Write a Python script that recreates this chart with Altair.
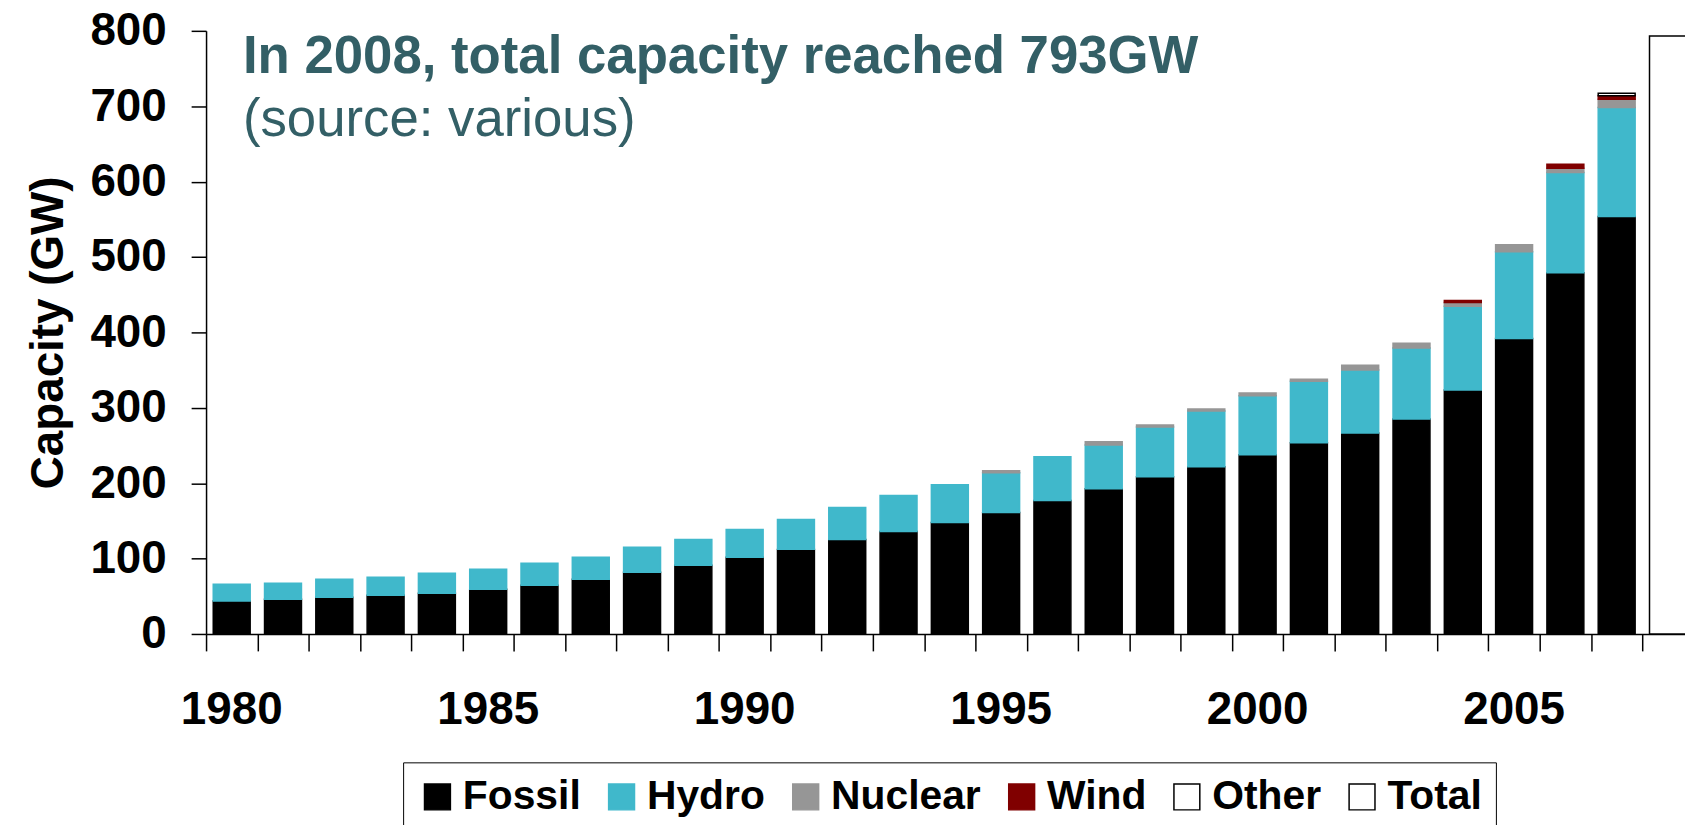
import altair as alt
import pandas as pd

# ---- data (GW) ----
years = list(range(1980, 2008))
fossil = [43.6, 46.2, 48.8, 51.5, 54.1, 59.4, 64.7, 72.6, 81.8, 91.1,
          101.6, 112.2, 125.4, 136.0, 147.9, 161.0, 176.9, 192.7, 208.6, 221.8,
          237.6, 253.5, 266.7, 285.1, 323.7, 392.0, 479.2, 553.7]
hydro = [22.4, 21.1, 23.8, 23.7, 26.4, 26.4, 29.0, 29.0, 33.1, 34.3,
         37.0, 39.6, 42.3, 47.5, 50.1, 52.9, 58.1, 58.1, 66.0, 73.9,
         78.3, 81.8, 83.5, 94.2, 111.0, 114.9, 132.9, 144.6]
nuclear = [0, 0, 0, 0, 0, 0, 0, 0, 0, 0,
           0, 0, 0, 0, 0, 2.6, 0, 4.0, 2.6, 2.6,
           3.6, 2.7, 6.2, 6.2, 4.9, 9.3, 5.7, 11.1]
wind = [0] * 24 + [2.6, 0, 5.2, 4.4]
other = [0] * 27 + [3.5]
total_year = 2008
total_value = 793

sources = ["Fossil", "Hydro", "Nuclear", "Wind", "Other", "Total"]
fill_colors = ["#000000", "#40B8CB", "#969696", "#800000", "#FFFFFF", "#FFFFFF"]
stroke_colors = ["#000000", "#40B8CB", "#969696", "#800000", "#000000", "#000000"]
y_ticks = [0, 100, 200, 300, 400, 500, 600, 700, 800]
x_labels = [1980, 1985, 1990, 1995, 2000, 2005]

title_text = "In 2008, total capacity reached 793GW"
subtitle_text = "(source: various)"

rows = []
for i, yr in enumerate(years):
    for k, (name, arr) in enumerate(zip(sources[:5], [fossil, hydro, nuclear, wind, other])):
        if arr[i] > 0:
            rows.append({"year": yr, "source": name, "value": arr[i], "order": k})
rows.append({"year": total_year, "source": "Total", "value": total_value, "order": 5})
df = pd.DataFrame(rows)
label_df = pd.DataFrame({"year": x_labels, "label": [str(v) for v in x_labels]})

tick_positions = [y - 0.5 for y in years] + [years[-1] + 0.5]

FONT = "Liberation Sans"
band_px = 51.54
plot_w = 1486
plot_h = 606
x_max = 1979.5 + plot_w / band_px
x_scale = alt.Scale(domain=[1979.5, x_max], nice=False, zero=False)

legend = alt.Legend(title=None, orient="none", legendX=198, legendY=735,
                    direction="horizontal",
                    symbolType="square", symbolSize=676,
                    symbolStrokeWidth=1.5, labelFont=FONT,
                    labelFontSize=41, labelFontWeight="bold",
                    labelColor="black", labelOffset=5,
                    labelLimit=400, columnPadding=20,
                    padding=14, strokeColor="black",
                    fillColor="white")

bars = alt.Chart(df).transform_calculate(
    x0="datum.year - 0.36",
    x1="datum.year + 0.36",
).transform_stack(
    stack="value", groupby=["year"], as_=["v0", "v1"],
    sort=[alt.SortField("order", order="ascending")],
).mark_bar(clip=True, strokeWidth=1.5).encode(
    x=alt.X("x0:Q", scale=x_scale,
            axis=alt.Axis(orient="bottom", values=tick_positions, labels=False,
                          tickSize=17, tickColor="black", tickWidth=1.5,
                          domainColor="black", domainWidth=1.5, grid=False,
                          title=None)),
    x2="x1:Q",
    y=alt.Y("v0:Q",
            scale=alt.Scale(domain=[0, 800], nice=False),
            axis=alt.Axis(values=y_ticks, labelFontSize=46, labelFont=FONT,
                          labelFontWeight="bold", labelColor="black",
                          labelPadding=25, tickSize=15, tickColor="black",
                          tickWidth=1.5, domainColor="black", domainWidth=1.5,
                          grid=False, title="Capacity (GW)", titleFont=FONT,
                          titleFontSize=46, titleFontWeight="bold",
                          titleColor="black", titlePadding=17)),
    y2="v1:Q",
    fill=alt.Fill("source:N",
                  scale=alt.Scale(domain=sources, range=fill_colors),
                  legend=legend),
    stroke=alt.Stroke("source:N",
                      scale=alt.Scale(domain=sources, range=stroke_colors),
                      legend=legend),
)

# year labels under the bars, positioned by the shared x scale
year_labels = alt.Chart(label_df).mark_text(
    align="center", baseline="alphabetic", font=FONT, fontSize=46,
    fontWeight="bold", color="black"
).encode(
    x=alt.X("year:Q", scale=x_scale),
    y=alt.value(plot_h + 90),
    text="label:N",
)

title_df = pd.DataFrame({"t": [title_text]})
sub_df = pd.DataFrame({"t": [subtitle_text]})

title_mark = alt.Chart(title_df).mark_text(
    align="left", baseline="alphabetic", font=FONT, fontSize=53,
    fontWeight="bold", color="#335F66"
).encode(x=alt.value(37), y=alt.value(42), text="t:N")

sub_mark = alt.Chart(sub_df).mark_text(
    align="left", baseline="alphabetic", font=FONT, fontSize=53,
    fontWeight="normal", color="#335F66"
).encode(x=alt.value(37), y=alt.value(106), text="t:N")

chart = alt.layer(bars, year_labels, title_mark, sub_mark).properties(
    width=plot_w, height=plot_h,
    background="white",
    autosize=alt.AutoSizeParams(type="none"),
    padding={"left": 199, "top": 21, "right": 0, "bottom": 190},
).configure_view(strokeWidth=0, stroke="transparent").configure_axis(
    grid=False
)

chart.save("out.html", embed_options={"renderer": "svg", "actions": False})
